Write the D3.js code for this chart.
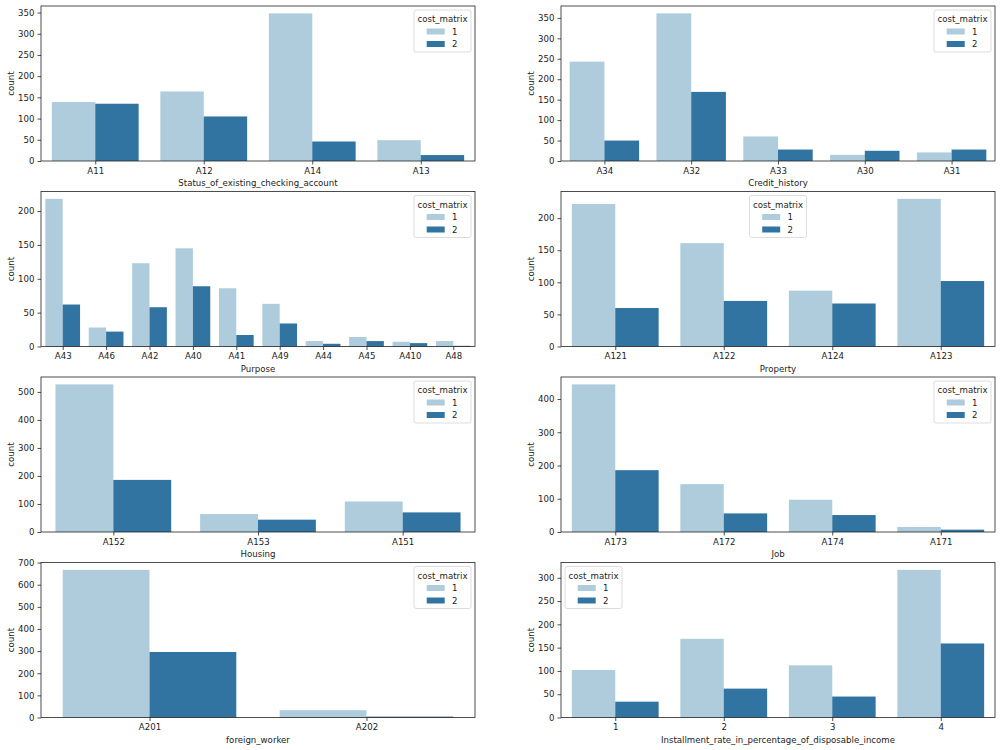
<!DOCTYPE html>
<html>
<head>
<meta charset="utf-8">
<script src="https://cdn.jsdelivr.net/npm/d3@7"></script>
<style>
body{margin:0;background:#fff;}
svg text{font-family:"DejaVu Sans",sans-serif;fill:#222;}
</style>
</head>
<body>
<svg id="chart" width="1000" height="750"></svg>
<script>
'use strict';

// german credit counts per category, cost_matrix 1 (good) / 2 (bad)
var statusCats=['A11','A12','A14','A13']
  , statusGood=[139,164,348,49]
  , statusBad=[135,105,46,14]

var historyCats=['A34','A32','A33','A30','A31']
  , historyGood=[243,361,60,15,21]
  , historyBad=[50,169,28,25,28]

var purposeCats=['A43','A46','A42','A40','A41','A49','A44','A45','A410','A48']
  , purposeGood=[218,28,123,145,86,63,8,14,7,8]
  , purposeBad=[62,22,58,89,17,34,4,8,5,1]

var propertyCats=['A121','A122','A124','A123']
  , propertyGood=[222,161,87,230]
  , propertyBad=[60,71,67,102]

var housingCats=['A152','A153','A151']
  , housingGood=[527,64,109]
  , housingBad=[186,44,70]

var jobCats=['A173','A172','A174','A171']
  , jobGood=[444,144,97,15]
  , jobBad=[186,56,51,7]

var foreignCats=['A201','A202']
  , foreignGood=[667,33]
  , foreignBad=[296,4]

var rateCats=['1','2','3','4']
  , rateGood=[102,169,112,317]
  , rateBad=[34,62,45,159]

var hueLabels=['1','2']
  , hueColors=['#aeccdb','#3274a1']

var panels=[
    {name:'Status_of_existing_checking_account',cats:statusCats,vals:[statusGood,statusBad],step:50,legend:'right'}
  , {name:'Credit_history',cats:historyCats,vals:[historyGood,historyBad],step:50,legend:'right'}
  , {name:'Purpose',cats:purposeCats,vals:[purposeGood,purposeBad],step:50,legend:'right'}
  , {name:'Property',cats:propertyCats,vals:[propertyGood,propertyBad],step:50,legend:'center'}
  , {name:'Housing',cats:housingCats,vals:[housingGood,housingBad],step:100,legend:'right'}
  , {name:'Job',cats:jobCats,vals:[jobGood,jobBad],step:100,legend:'right'}
  , {name:'foreign_worker',cats:foreignCats,vals:[foreignGood,foreignBad],step:100,legend:'right'}
  , {name:'Installment_rate_in_percentage_of_disposable_income',cats:rateCats,vals:[rateGood,rateBad],step:50,legend:'left'}
];

var svg=d3.select('#chart')
  , colX=[41,561]
  , axW=434
  , rowY=[6,191.5,377,562.5]
  , axH=155
  , fs=8.6

panels.forEach(function(p,i){
    var x0=colX[i%2]
      , y0=rowY[Math.floor(i/2)]
      , n=p.cats.length
      , maxv=d3.max(p.vals,function(v){return d3.max(v);})
      , g=svg.append('g').attr('transform','translate('+x0+','+y0+')')

    var x=d3.scaleLinear().domain([-0.5,n-0.5]).range([0,axW])
      , y=d3.scaleLinear().domain([0,maxv*1.05]).range([axH,0])
      , bw=x(0.4)-x(0)

    p.vals.forEach(function(v,h){
        g.selectAll('rect.h'+h)
            .data(v)
            .enter()
            .append('rect')
            .attr('class','h'+h)
            .attr('x',function(d,j){return x(j-0.4+0.4*h);})
            .attr('y',function(d){return y(d);})
            .attr('width',bw)
            .attr('height',function(d){return axH-y(d);})
            .attr('fill',hueColors[h]);
    });

    var xa=d3.axisBottom(x)
            .tickValues(d3.range(n))
            .tickFormat(function(d){return p.cats[d];})
            .tickSize(3.5).tickPadding(3)
      , ya=d3.axisLeft(y)
            .tickValues(d3.range(0,maxv*1.05,p.step))
            .tickFormat(d3.format('d'))
            .tickSize(3.5).tickPadding(3)

    var gx=g.append('g').attr('transform','translate(0,'+axH+')').call(xa)
      , gy=g.append('g').call(ya)

    ;[gx,gy].forEach(function(a){
        a.select('.domain').remove();
        a.selectAll('line').attr('stroke','#222').attr('stroke-width',0.8);
        a.selectAll('text').style('font-size',fs+'px').attr('fill','#222');
    });

    g.append('rect')
        .attr('x',0).attr('y',0)
        .attr('width',axW).attr('height',axH)
        .attr('fill','none')
        .attr('stroke','#222')
        .attr('stroke-width',0.8);

    g.append('text')
        .attr('x',axW/2)
        .attr('y',axH+25)
        .attr('text-anchor','middle')
        .style('font-size',fs+'px')
        .text(p.name);

    g.append('text')
        .attr('transform','translate(-27,'+(axH/2)+') rotate(-90)')
        .attr('text-anchor','middle')
        .style('font-size',fs+'px')
        .text('count');

    // legend
    var lw=57, lh=42, lx, ly=4
    if(p.legend=='right') lx=axW-4-lw;
    else if(p.legend=='left') lx=4;
    else lx=(axW-lw)/2;

    var lg=g.append('g').attr('transform','translate('+lx+','+ly+')')
    lg.append('rect')
        .attr('width',lw).attr('height',lh)
        .attr('rx',2)
        .attr('fill','#fff').attr('fill-opacity',0.8)
        .attr('stroke','#d4d4d4').attr('stroke-width',0.8);
    lg.append('text')
        .attr('x',lw/2).attr('y',12)
        .attr('text-anchor','middle')
        .style('font-size',fs+'px')
        .text('cost_matrix');
    hueLabels.forEach(function(l,h){
        var cy=21.5+12.5*h
        lg.append('rect')
            .attr('x',12.7).attr('y',cy-3)
            .attr('width',18).attr('height',6)
            .attr('fill',hueColors[h]);
        lg.append('text')
            .attr('x',38).attr('y',cy+3)
            .style('font-size',fs+'px')
            .text(l);
    });
});
</script>
</body>
</html>
